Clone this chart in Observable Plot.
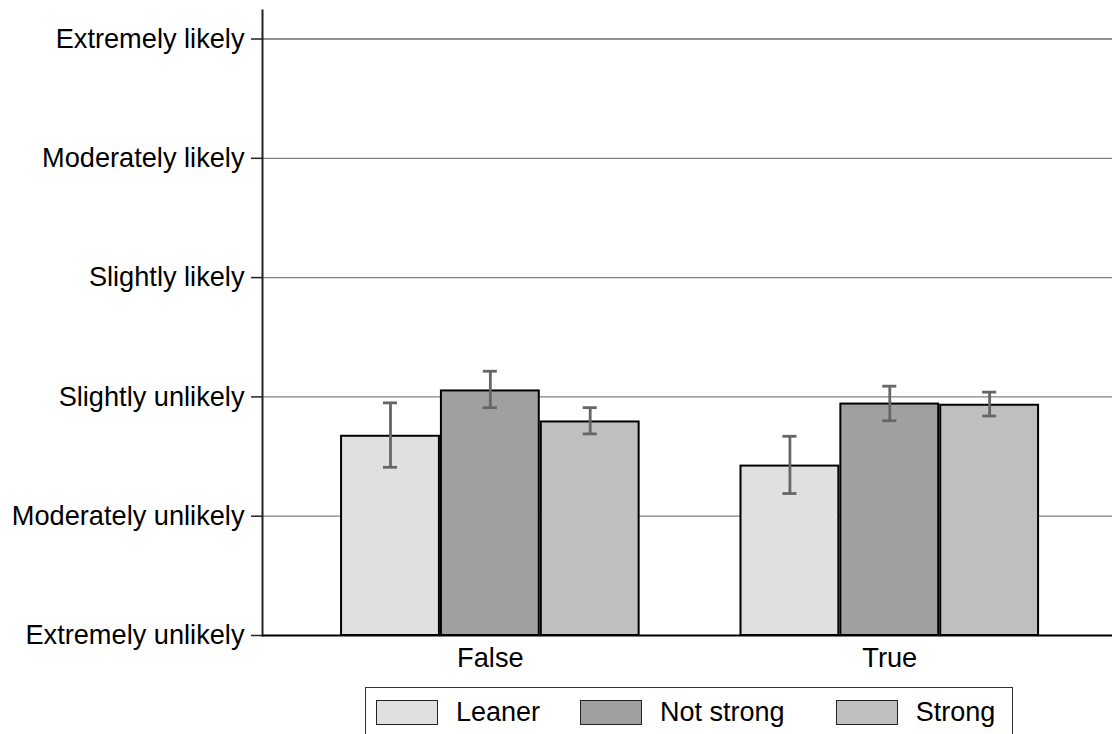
<!DOCTYPE html>
<html><head><meta charset="utf-8">
<script src="https://cdn.jsdelivr.net/npm/d3@7"></script>
<script src="https://cdn.jsdelivr.net/npm/@observablehq/plot@0.6"></script>
<style>
body{margin:0;background:#fff;font-family:"Liberation Sans",Arial,sans-serif;overflow:hidden;width:1112px;height:734px;position:relative}
#legend{position:absolute;left:365px;top:687px;width:648px;height:70px;border:1.3px solid #333;box-sizing:border-box;display:flex;align-items:flex-start;padding:11px 0 0 10px;font-size:27px;color:#000}
.item{display:flex;align-items:center;height:26px}
.sw{width:60px;height:23px;border:1.5px solid #222;margin-right:18px}
</style></head><body><div id="chart"></div><div id="legend"></div>
<script>
const groups = ["False", "True"];
const series = ["Leaner", "Not strong", "Strong"];
const falseMeans = [2.67, 3.05, 2.79];
const falseLow = [2.41, 2.91, 2.69];
const falseHigh = [2.95, 3.215, 2.91];
const trueMeans = [2.42, 2.94, 2.93];
const trueLow = [2.19, 2.80, 2.84];
const trueHigh = [2.67, 3.09, 3.04];
const levels = [1, 2, 3, 4, 5, 6];
const levelLabels = ["Extremely unlikely", "Moderately unlikely", "Slightly unlikely", "Slightly likely", "Moderately likely", "Extremely likely"];
const colors = ["#e0e0e0", "#a0a0a0", "#bfbfbf"];

const sep = "\u00b7";
const rows = [];
groups.forEach((g, gi) => {
  const m = gi === 0 ? falseMeans : trueMeans;
  const lo = gi === 0 ? falseLow : trueLow;
  const hi = gi === 0 ? falseHigh : trueHigh;
  series.forEach((s, si) => rows.push({group: g, series: s, key: g + sep + s, mean: m[si], lo: lo[si], hi: hi[si]}));
});
const xDomain = [];
groups.forEach((g, gi) => {
  if (gi > 0) xDomain.push(" ");
  series.forEach(s => xDomain.push(g + sep + s));
});

const FS = 27.2;
const chart = Plot.plot({
  width: 1112, height: 680,
  marginLeft: 262, marginRight: 0, marginTop: 10, marginBottom: 45,
  style: {fontFamily: "'Liberation Sans', Arial, sans-serif", fontSize: FS + "px", color: "#000", background: "#fff"},
  x: {type: "band", domain: xDomain, padding: 0, paddingOuter: 0.756, align: 0.517, round: false, axis: null},
  y: {domain: [1, 6.239], axis: null},
  color: {domain: series, range: colors},
  marks: [
    Plot.ruleY(levels.slice(1, 5), {stroke: "#808080", strokeWidth: 1.3}),
    Plot.ruleY([6], {stroke: "#222", strokeWidth: 1.2}),
    Plot.barY(rows, {x: "key", y1: 1, y2: "mean", fill: "series", stroke: "#000", strokeWidth: 2, insetLeft: 1, insetRight: 1}),
    Plot.ruleX(rows, {x: "key", y1: "lo", y2: "hi", stroke: "#666", strokeWidth: 2.8}),
    Plot.tickY(rows, {x: "key", y: "lo", stroke: "#666", strokeWidth: 2.8, insetLeft: 42.9, insetRight: 42.9}),
    Plot.tickY(rows, {x: "key", y: "hi", stroke: "#666", strokeWidth: 2.8, insetLeft: 42.9, insetRight: 42.9}),
    Plot.axisY({ticks: levels, tickSize: 11, tickPadding: 7, tickFormat: d => levelLabels[d - 1], stroke: "#222", strokeWidth: 1.5, fill: "#000", fontSize: FS}),
    Plot.frame({anchor: "left", stroke: "#222", strokeWidth: 2}),
    Plot.ruleY([1], {stroke: "#000", strokeWidth: 2}),
    Plot.text(groups, {x: d => d + sep + "Not strong", y: 1, dy: 22.5, text: d => d, lineAnchor: "middle", fill: "#000", fontSize: FS})
  ]
});
document.getElementById("chart").appendChild(chart);

const legend = document.getElementById("legend");
const gaps = [40, 51, 0];
series.forEach((s, i) => {
  const it = document.createElement("div");
  it.className = "item";
  it.style.marginRight = gaps[i] + "px";
  const sw = document.createElement("div");
  sw.className = "sw";
  sw.style.background = colors[i];
  const t = document.createElement("span");
  t.textContent = s;
  it.appendChild(sw); it.appendChild(t);
  legend.appendChild(it);
});
</script></body></html>
